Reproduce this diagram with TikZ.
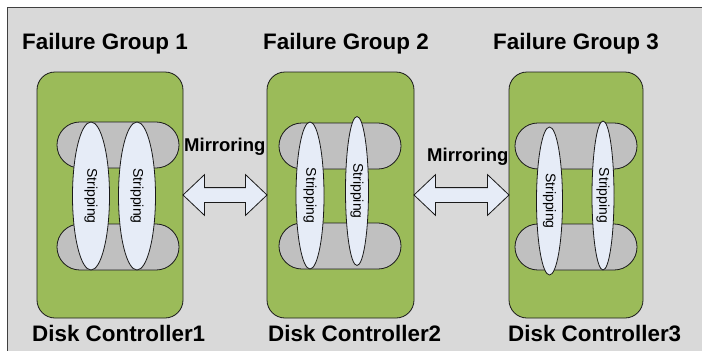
\documentclass[tikz,border=0pt]{standalone}
\usepackage{fontspec}
\setmainfont{Liberation Sans}
\usetikzlibrary{shapes.geometric,shapes.arrows,calc}
\definecolor{bgray}{HTML}{D9D9D9}
\definecolor{dgreen}{HTML}{9BBB59}
\definecolor{sgray}{HTML}{C0C0C0}
\definecolor{lblue}{HTML}{E6ECF7}
\definecolor{edge}{HTML}{1A1A1A}
\begin{document}
\begin{tikzpicture}[x=1pt,y=-1pt,
  outl/.style={draw=edge, line width=0.8pt},
  ctrlbox/.style={outl, fill=dgreen, rounded corners=18pt, minimum height=246pt, inner sep=0pt},
  diskbox/.style={outl, fill=sgray, rounded corners=22.9pt, minimum width=122pt, minimum height=46pt, inner sep=0pt},
  stripe/.style={outl, fill=lblue, ellipse, rotate=-90, inner sep=0pt,
    font=\fontsize{14}{16}\selectfont},
  mirror/.style={outl, fill=lblue, double arrow, inner xsep=0pt, inner ysep=7pt,
    double arrow head extend=13pt, double arrow tip angle=87},
  title/.style={anchor=base west, inner sep=0pt, font=\fontsize{22.4}{26}\selectfont\bfseries},
  mlabel/.style={anchor=base west, inner sep=0pt, font=\fontsize{18.5}{22}\selectfont\bfseries}
]
\useasboundingbox (0,0) rectangle (702,351);
\fill[white] (0,0) rectangle (702,351);
\begin{scope}
\clip (0,0) rectangle (702,351);
\draw[fill=bgray, draw=black!75, line width=0.8pt] (7,7) rectangle (720,370);
\end{scope}

% controllers
\node[ctrlbox, minimum width=146pt] (g1) at (110,195) {};
\node[ctrlbox, minimum width=147pt] (g2) at (340.5,195) {};
\node[ctrlbox, minimum width=134pt] (g3) at (576,195) {};

% disks
\node[diskbox] (d1t) at (118,145) {};
\node[diskbox] (d1b) at (118,247) {};
\node[diskbox] (d2t) at (340,146) {};
\node[diskbox] (d2b) at (340,246) {};
\node[diskbox] (d3t) at (576,146) {};
\node[diskbox] (d3b) at (576,247) {};

% stripes
\node[stripe, minimum width=148pt, minimum height=37pt] (s1a) at (91,196) {Stripping};
\node[stripe, minimum width=148pt, minimum height=37pt] (s1b) at (137,196) {Stripping};
\node[stripe, minimum width=147pt, minimum height=28pt] (s2a) at (310,195.5) {Stripping};
\node[stripe, minimum width=149pt, minimum height=23pt] (s2b) at (357,191) {Stripping};
\node[stripe, minimum width=148pt, minimum height=26pt] (s3a) at (549.5,201) {Stripping};
\node[stripe, minimum width=149pt, minimum height=22pt] (s3b) at (603,195.5) {Stripping};

% mirroring arrows
\node[mirror, minimum height=84pt] (m1) at ($(g1.east)!0.5!(g2.west)$) {};
\node[mirror, minimum height=95pt] (m2) at ($(g2.east)!0.5!(g3.west)$) {};

% labels
\node[title] (f1) at (22,49) {Failure Group 1};
\node[title] (f2) at (263,49) {Failure Group 2};
\node[title] (f3) at (493,49) {Failure Group 3};
\node[title] (c1) at (32,341) {Disk Controller1};
\node[title] (c2) at (268,341) {Disk Controller2};
\node[title] (c3) at (508,341) {Disk Controller3};
\node[mlabel] (ml1) at (184,151) {Mirroring};
\node[mlabel] (ml2) at (427,161) {Mirroring};
\end{tikzpicture}
\end{document}
